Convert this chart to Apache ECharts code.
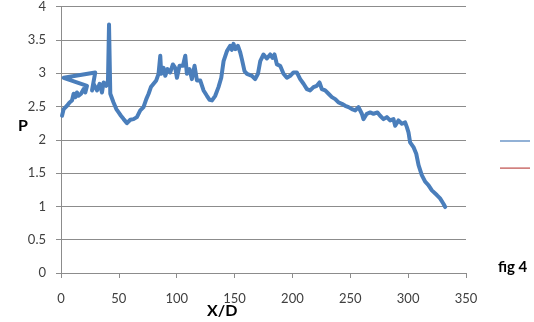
<!DOCTYPE html>
<html>
<head>
<meta charset="utf-8">
<script src="https://cdn.jsdelivr.net/npm/echarts@6/dist/echarts.min.js"></script>
<style>
  html, body { margin: 0; padding: 0; background: #fff; }
  #chart { width: 534px; height: 322px; }
</style>
</head>
<body>
<div id="chart"></div>
<script>
// X/D positions along the profile (the trace doubles back near the start)
const xD = [
  0.9, 2.3, 3.7, 5.2, 7.4, 9.5, 10.9, 12.4, 13.8, 15.2,
  17.3, 19.5, 21, 22.5, 23.8,
  2.3, 2.8, 29.6,
  26.8, 28.2, 31.1, 33.4, 35.4, 36.8, 39.1, 40.6, 41.5, 42.6,
  45.4, 47.8, 49.8, 51.8, 54.1, 57, 59.9, 62.7, 65.6, 68.5,
  71.3, 73.7, 75.7, 77.7, 80, 82.3, 84.3, 85.8, 86.6, 88.6,
  90.1, 92.1, 94.4, 96.7, 98.7, 100.2, 102.4, 105.4, 107.4, 108.8,
  111.1, 113.1, 115.4, 117.5, 120.3, 123.2, 126.1, 128.4, 130.5, 133.3,
  136.1, 138.5, 140.5, 143.4, 146.2, 147.6, 149.1, 150.6, 152.9, 154.9,
  156.3, 158.6, 160.7, 165, 167.8, 170.2, 172.2, 175, 177.9, 180.8,
  182.8, 184.5, 186.6, 189.4, 192.3, 195.2, 198.1, 200.9, 203.8, 206.7,
  209.6, 212.5, 215.3, 218.2, 221.1, 223.4, 225.4, 228.3, 231.2, 234.1,
  237, 239.8, 242.7, 245.6, 248.5, 251.4, 254.3, 257.1, 260, 261.4,
  264.3, 267.2, 270.1, 273.5, 275.8, 278.7, 281.6, 284.4, 287.3, 288.8,
  291.6, 294.6, 297.4, 298.9, 300.3, 301.7, 304.6, 307, 309, 311.8,
  314.7, 317.5, 320.5, 324.8, 327.6, 330.5, 332
];

// P values at each X/D position
const pValues = [
  2.36, 2.46, 2.44, 2.51, 2.56, 2.59, 2.69, 2.64, 2.71, 2.66,
  2.69, 2.76, 2.71, 2.81, 2.79,
  2.93, 2.95, 3.01,
  2.74, 2.84, 2.74, 2.84, 2.71, 2.86, 2.81, 2.89, 3.73, 2.69,
  2.56, 2.46, 2.41, 2.36, 2.31, 2.25, 2.30, 2.31, 2.34, 2.44,
  2.49, 2.61, 2.69, 2.79, 2.84, 2.89, 2.99, 3.26, 2.99, 3.08,
  2.96, 3.06, 3.01, 3.13, 3.08, 2.93, 3.11, 3.11, 3.26, 2.99,
  3.06, 2.91, 3.11, 2.89, 2.89, 2.74, 2.66, 2.60, 2.59, 2.66,
  2.79, 2.93, 3.18, 3.33, 3.41, 3.35, 3.44, 3.36, 3.41, 3.31,
  3.21, 3.03, 2.99, 2.96, 2.91, 2.99, 3.18, 3.28, 3.22, 3.28,
  3.23, 3.28, 3.13, 3.11, 2.99, 2.93, 2.96, 3.01, 3.01, 2.91,
  2.84, 2.76, 2.74, 2.79, 2.81, 2.86, 2.76, 2.74, 2.69, 2.64,
  2.61, 2.56, 2.54, 2.51, 2.49, 2.46, 2.44, 2.49, 2.39, 2.31,
  2.39, 2.41, 2.39, 2.41, 2.36, 2.31, 2.34, 2.29, 2.31, 2.21,
  2.29, 2.24, 2.26, 2.19, 2.11, 1.96, 1.89, 1.79, 1.62, 1.47,
  1.37, 1.32, 1.24, 1.17, 1.12, 1.04, 0.99
];

const seriesNames = ['Series1', 'Series2'];
const seriesColors = ['#4a7ebb', '#be4b48'];

const gridColor = '#8c8c8c';
const labelFont = { color: '#404040', fontFamily: 'Lato, "Liberation Sans", sans-serif', fontSize: 13 };
const titleFont = 'Lato, "Liberation Sans", sans-serif';

const chart = echarts.init(document.getElementById('chart'), null, { renderer: 'canvas' });

chart.setOption({
  animation: false,
  backgroundColor: '#ffffff',
  grid: { left: 61, right: 68, top: 5, bottom: 49, containLabel: false },
  legend: {
    orient: 'vertical',
    left: 495,
    top: 132,
    itemWidth: 30,
    itemHeight: 8,
    itemGap: 22.5,
    icon: 'path://M0,3.4H30V4.6H0Z',
    formatter: () => '',
    selectedMode: false,
    data: seriesNames
  },
  xAxis: {
    type: 'value',
    min: 0,
    max: 350,
    interval: 50,
    splitLine: { show: false },
    axisLine: { show: true, lineStyle: { color: gridColor, width: 1 } },
    axisTick: { show: true, length: 5, lineStyle: { color: gridColor } },
    axisLabel: Object.assign({ margin: 19 }, labelFont)
  },
  yAxis: {
    type: 'value',
    min: 0,
    max: 4,
    interval: 0.5,
    splitLine: { show: true, lineStyle: { color: gridColor, width: 1 } },
    axisLine: { show: true, lineStyle: { color: gridColor, width: 1 } },
    axisTick: { show: true, length: 5, lineStyle: { color: gridColor } },
    axisLabel: Object.assign({ margin: 15 }, labelFont)
  },
  series: [
    {
      name: seriesNames[0],
      type: 'line',
      data: xD.map((x, i) => [x, pValues[i]]),
      showSymbol: false,
      symbol: 'none',
      smooth: false,
      lineStyle: { color: seriesColors[0], width: 4, join: 'round', cap: 'round' },
      itemStyle: { color: seriesColors[0] }
    },
    {
      name: seriesNames[1],
      type: 'line',
      data: [],
      symbol: 'none',
      lineStyle: { color: seriesColors[1], width: 2 },
      itemStyle: { color: seriesColors[1] }
    }
  ],
  graphic: [
    {
      type: 'text', left: 18, top: 118,
      style: { text: 'P', fill: '#000', font: 'bold 16px ' + titleFont }
    },
    {
      type: 'text', left: 207, top: 303,
      style: { text: 'X/D', fill: '#000', font: 'bold 16px ' + titleFont }
    },
    {
      type: 'text', left: 498, top: 260,
      style: { text: 'fig 4', fill: '#000', font: 'bold 15px ' + titleFont }
    }
  ]
});
</script>
</body>
</html>
